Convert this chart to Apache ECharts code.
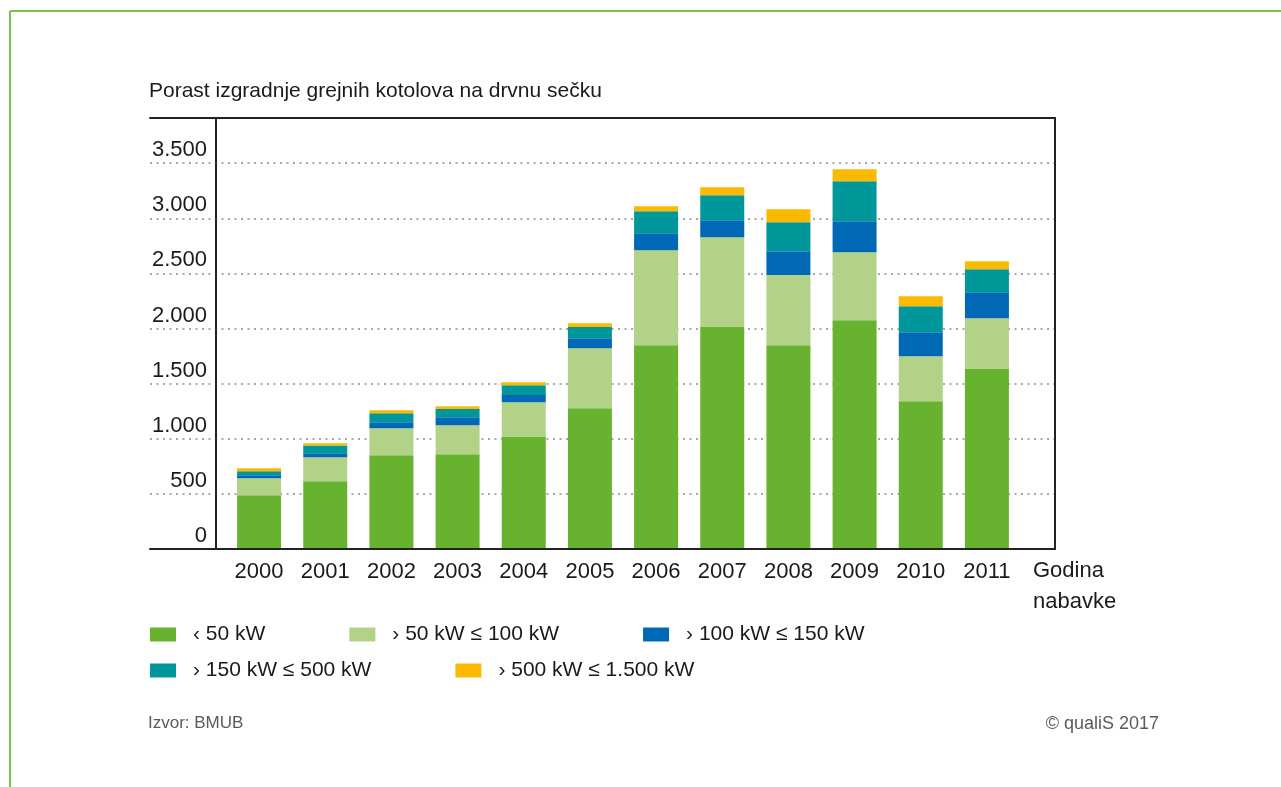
<!DOCTYPE html>
<html>
<head>
<meta charset="utf-8">
<script src="https://cdn.jsdelivr.net/npm/echarts@6/dist/echarts.min.js"></script>
<style>
html,body{margin:0;padding:0;background:#fff;}
#chart{width:1281px;height:787px;}
</style>
</head>
<body>
<div id="chart"></div>
<script>
const categories = ['2000','2001','2002','2003','2004','2005','2006','2007','2008','2009','2010','2011'];
const seriesNames = ['‹ 50 kW', '› 50 kW ≤ 100 kW', '› 100 kW ≤ 150 kW', '› 150 kW ≤ 500 kW', '› 500 kW ≤ 1.500 kW'];
const below50 = [488, 615, 851, 860, 1015, 1278, 1849, 2013, 1849, 2076, 1341, 1633];
const from50to100 = [154, 218, 245, 263, 317, 544, 862, 816, 636, 617, 408, 461];
const from100to150 = [28, 36, 55, 73, 64, 91, 154, 154, 217, 281, 218, 236];
const from150to500 = [36, 70, 81, 73, 90, 100, 200, 227, 263, 363, 236, 209];
const from500to1500 = [27, 21, 27, 27, 26, 36, 45, 72, 118, 109, 90, 72];
const yTicks = [0, 500, 1000, 1500, 2000, 2500, 3000, 3500];
const titleText = 'Porast izgradnje grejnih kotolova na drvnu sečku';
const xAxisName = 'Godina\nnabavke';
const sourceText = 'Izvor: BMUB';
const copyrightText = '© qualiS 2017';

const colors = ['#67b22f', '#b1d287', '#0068b4', '#00979a', '#fbb900'];
const values = [below50, from50to100, from100to150, from150to500, from500to1500];
const FONT = "'Liberation Sans', Arial, sans-serif";
const TXT = '#1a1a1a';
const YMAX = 3910;

function fmt(v) {
  if (yTicks.indexOf(v) < 0) return '';
  if (v >= 1000) return Math.floor(v / 1000) + '.' + String(v % 1000).padStart(3, '0');
  return String(v);
}

const axisLineBlack = {show: true, onZero: false, lineStyle: {color: '#222', width: 2}};
const hiddenBits = {axisTick: {show: false}, axisLabel: {show: false}, splitLine: {show: false}};

const chart = echarts.init(document.getElementById('chart'), null, {renderer: 'canvas'});
chart.setOption({
  animation: false,
  backgroundColor: '#fff',
  textStyle: {fontFamily: FONT, color: TXT},
  title: [
    {text: titleText, left: 149, top: 81, padding: 0,
     textStyle: {fontFamily: FONT, fontSize: 21, fontWeight: 'normal', color: TXT}},
    {text: sourceText, left: 148, top: 715, padding: 0,
     textStyle: {fontFamily: FONT, fontSize: 17, fontWeight: 'normal', color: '#5a5a5a'}},
    {text: copyrightText, right: 122, top: 715, padding: 0,
     textStyle: {fontFamily: FONT, fontSize: 18, fontWeight: 'normal', color: '#5a5a5a'}}
  ],
  graphic: [
    {type: 'line', shape: {x1: 10, y1: 11, x2: 1281, y2: 11}, style: {stroke: '#7dc146', lineWidth: 2}, silent: true},
    {type: 'line', shape: {x1: 10, y1: 11, x2: 10, y2: 787}, style: {stroke: '#7dc146', lineWidth: 2}, silent: true}
  ],
  legend: [
    {data: seriesNames.slice(0, 3), left: 150, top: 624, orient: 'horizontal',
     icon: 'rect', itemWidth: 26, itemHeight: 14, itemGap: 84, padding: 0,
     textStyle: {fontFamily: FONT, fontSize: 21, color: TXT, padding: [0, 0, 0, 12]}},
    {data: seriesNames.slice(3), left: 150, top: 660, orient: 'horizontal',
     icon: 'rect', itemWidth: 26, itemHeight: 14, itemGap: 84, padding: 0,
     textStyle: {fontFamily: FONT, fontSize: 21, color: TXT, padding: [0, 0, 0, 12]}}
  ],
  grid: [
    {left: 150, right: 226, top: 118, bottom: 238},
    {left: 216, right: 226, top: 118, bottom: 238},
    {left: 226, right: 261, top: 118, bottom: 238}
  ],
  xAxis: [
    Object.assign({gridIndex: 0, type: 'value', position: 'bottom', min: 0, max: 1, axisLine: axisLineBlack, z: 5}, hiddenBits),
    Object.assign({gridIndex: 0, type: 'value', position: 'top', min: 0, max: 1, axisLine: axisLineBlack, z: 5}, hiddenBits),
    {gridIndex: 1, type: 'value', min: 0, max: 1, show: false},
    {gridIndex: 2, type: 'category', data: categories,
     axisLine: {show: false}, axisTick: {show: false},
     axisLabel: {fontFamily: FONT, fontSize: 22, color: TXT, margin: 12, lineHeight: 22},
     name: xAxisName, nameLocation: 'end', nameGap: 13,
     nameTextStyle: {fontFamily: FONT, fontSize: 22, color: TXT, align: 'left', verticalAlign: 'top', lineHeight: 31, padding: [6, 0, 0, 0]}}
  ],
  yAxis: [
    {gridIndex: 0, type: 'value', min: 0, max: YMAX, interval: 500,
     axisLine: {show: false}, axisTick: {show: false}, axisLabel: {show: false},
     splitLine: {show: true, lineStyle: {color: '#8a8a8a', width: 1.5, type: [2, 4.5]}}},
    Object.assign({gridIndex: 0, type: 'value', position: 'right', min: 0, max: YMAX, interval: 500, axisLine: axisLineBlack, z: 5}, hiddenBits),
    {gridIndex: 1, type: 'value', position: 'left', min: 0, max: YMAX, interval: 500,
     axisLine: axisLineBlack, axisTick: {show: false}, splitLine: {show: false}, z: 5,
     axisLabel: {show: true, showMaxLabel: false, formatter: fmt, margin: 9,
       fontFamily: FONT, fontSize: 22, color: TXT, verticalAlign: 'bottom', lineHeight: 22, padding: [0, 0, 2, 0]}},
    {gridIndex: 2, type: 'value', min: 0, max: YMAX, show: false}
  ],
  series: values.map((arr, i) => ({
    name: seriesNames[i],
    type: 'bar',
    stack: 'total',
    xAxisIndex: 3,
    yAxisIndex: 3,
    barWidth: 44,
    itemStyle: {color: colors[i]},
    data: arr
  }))
});
</script>
</body>
</html>
